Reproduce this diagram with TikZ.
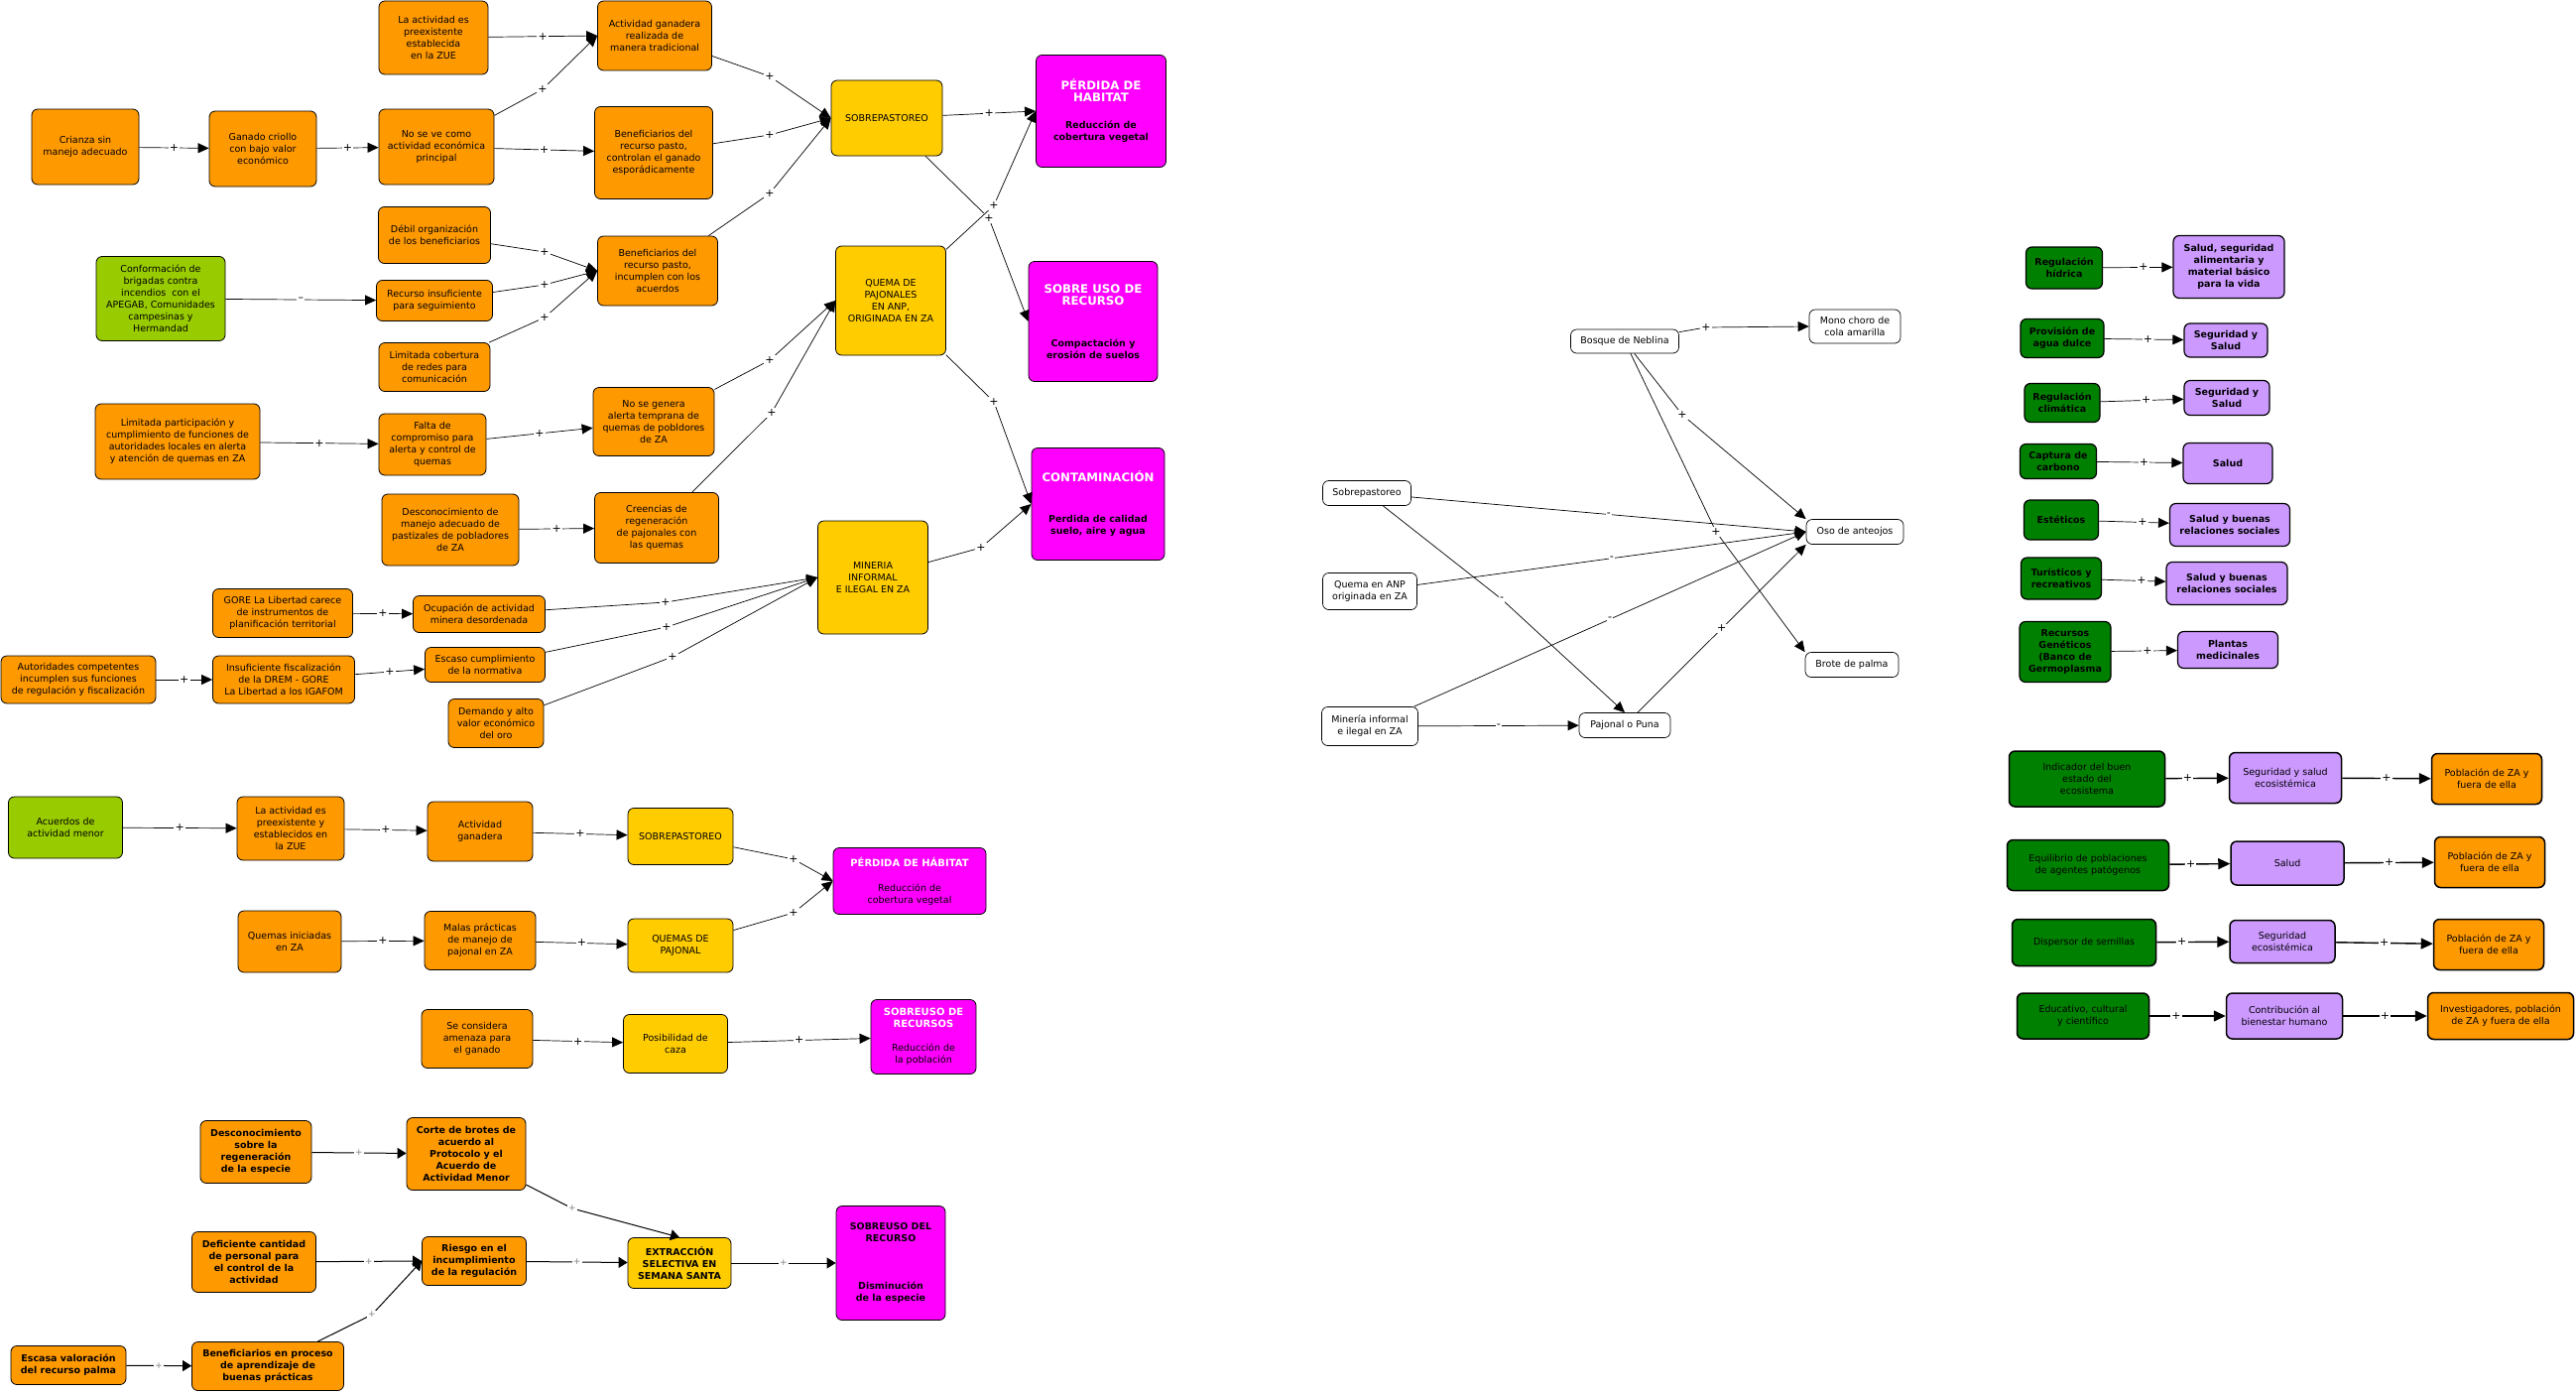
\documentclass[tikz,border=0pt]{standalone}
\usepackage{fontspec}
\setmainfont{DejaVu Sans}
\usetikzlibrary{arrows.meta}

\definecolor{naranja}{HTML}{FF9900}
\definecolor{amarillo}{HTML}{FFCC00}
\definecolor{fucsia}{HTML}{FF00FF}
\definecolor{lima}{HTML}{99CC00}
\definecolor{verde}{HTML}{008000}
\definecolor{lila}{HTML}{CC99FF}

\newcommand{\titb}{\color{white}\bfseries\fontsize{11.8}{14}\selectfont}
\newcommand{\titc}{\color{white}\bfseries\fontsize{10}{12}\selectfont}

\tikzset{
  caja/.style={draw, rounded corners=6pt, line width=0.8pt, align=center, inner sep=1pt, font=\fontsize{9.5}{12}\selectfont},
  tam/.style 2 args={minimum width=#1pt, minimum height=#2pt},
  cajanaranja/.style={caja, fill=naranja},
  cajaamarilla/.style={caja, fill=amarillo},
  cajafucsia/.style={caja, fill=fucsia},
  cajalima/.style={caja, fill=lima},
  cajaverde/.style={caja, fill=verde},
  cajalila/.style={caja, fill=lila},
  cajablanca/.style={caja, fill=white, line width=0.7pt},
  negrita/.style={font=\fontsize{9.5}{12}\selectfont\bfseries},
  gruesa/.style={line width=1.5pt},
  flecha/.style={-{Triangle[length=11pt,width=10pt]}, line width=0.7pt},
  flechamedia/.style={-{Triangle[length=9pt,width=11pt]}, line width=1pt},
  flechagruesa/.style={-{Triangle[length=12pt,width=11pt]}, line width=1.4pt},
  mas/.style={fill=white, inner sep=1.2pt, font=\fontsize{11}{11}\selectfont},
  masgris/.style={mas, text=gray, font=\fontsize{9}{9}\selectfont},
}

\begin{document}
\begin{tikzpicture}[x=1pt, y=-1pt]
\fill[white] (0,0) rectangle (2597,1405);
\useasboundingbox (0,0) rectangle (2597,1405);

% ganaderia, quemas y mineria
\node[cajanaranja, tam={108}{76}] (crianza) at (86,148) {Crianza sin\\manejo adecuado};
\node[cajanaranja, tam={108}{76}] (ganado) at (265,150) {Ganado criollo\\con bajo valor\\económico};
\node[cajanaranja, tam={116}{76}] (noseve) at (440,148) {No se ve como\\actividad económica\\principal};
\node[cajanaranja, tam={110}{74}] (preexist) at (437,38) {La actividad es\\preexistente\\establecida\\en la ZUE};
\node[cajanaranja, tam={115}{70}] (actgan) at (660,36) {Actividad ganadera\\realizada de\\manera tradicional};
\node[cajanaranja, tam={119}{93}] (benefctrl) at (659,154) {Beneficiarios del\\recurso pasto,\\controlan el ganado\\esporádicamente};
\node[cajaamarilla, tam={112}{76}] (sobrep) at (894,119) {SOBREPASTOREO};
\node[cajafucsia, tam={131}{113}] (perdida) at (1110,112) {\titb PÉRDIDA DE\\\titb HABITAT\\[15pt]\bfseries Reducción de\\\bfseries cobertura vegetal};
\node[cajanaranja, tam={113}{57}] (debil) at (438,237) {Débil organización\\de los beneficiarios};
\node[cajanaranja, tam={117}{41}] (recurso) at (438,303) {Recurso insuficiente\\para seguimiento};
\node[cajanaranja, tam={112}{49}] (limcob) at (438,370) {Limitada cobertura\\de redes para\\comunicación};
\node[cajalima, tam={130}{85}] (conform) at (162,301) {Conformación de\\brigadas contra\\incendios~ con el\\APEGAB, Comunidades\\campesinas y\\Hermandad};
\node[cajanaranja, tam={121}{70}] (benefinc) at (663,273) {Beneficiarios del\\recurso pasto,\\incumplen con los\\acuerdos};
\node[cajaamarilla, tam={111}{110}] (quema) at (898,303) {QUEMA DE\\PAJONALES\\EN ANP,\\ORIGINADA EN ZA};
\node[cajafucsia, tam={130}{121}] (sobreuso) at (1102,324) {\titb SOBRE USO DE\\\titb RECURSO\\[30pt]\bfseries Compactación y\\\bfseries erosión de suelos};
\node[cajanaranja, tam={166}{76}] (limpart) at (179,445) {Limitada participación y\\cumplimiento de funciones de\\autoridades locales en alerta\\y atención de quemas en ZA};
\node[cajanaranja, tam={108}{62}] (falta) at (436,448) {Falta de\\compromiso para\\alerta y control de\\quemas};
\node[cajanaranja, tam={122}{69}] (nogenera) at (659,425) {No se genera\\alerta temprana de\\quemas de pobldores\\de ZA};
\node[cajafucsia, tam={134}{113}] (contam) at (1107,508) {\titb CONTAMINACIÓN\\[29pt]\bfseries Perdida de calidad\\\bfseries suelo, aire y agua};
\node[cajanaranja, tam={138}{72}] (descmanejo) at (454,534) {Desconocimiento de\\manejo adecuado de\\pastizales de pobladores\\de ZA};
\node[cajanaranja, tam={125}{71}] (creencias) at (662,532) {Creencias de\\regeneración\\de pajonales con\\las quemas};
\node[cajaamarilla, tam={111}{114}] (mineria) at (880,582) {MINERIA\\INFORMAL\\E ILEGAL EN ZA};
\node[cajanaranja, tam={141}{49}] (gore) at (285,618) {GORE La Libertad carece\\de instrumentos de\\planificación territorial};
\node[cajanaranja, tam={133}{37}] (ocupacion) at (483,619) {Ocupación de actividad\\minera desordenada};
\node[cajanaranja, tam={156}{48}] (autoridades) at (79,685) {Autoridades competentes\\incumplen sus funciones\\de regulación y fiscalización};
\node[cajanaranja, tam={143}{48}] (insuf) at (286,685) {Insuficiente fiscalización\\de la DREM - GORE\\La Libertad a los IGAFOM};
\node[cajanaranja, tam={121}{35}] (escaso) at (489,670) {Escaso cumplimiento\\de la normativa};
\node[cajanaranja, tam={96}{49}] (demando) at (500,729) {Demando y alto\\valor económico\\del oro};

\draw[flecha] (crianza) -- node[mas]{+} (ganado);
\draw[flecha] (ganado) -- node[mas]{+} (noseve);
\draw[flecha] (preexist) -- node[mas]{+} (actgan.west);
\draw[flecha] (noseve) -- (547,90) node[mas]{+} -- (actgan.west);
\draw[flecha] (noseve) -- node[mas]{+} (benefctrl);
\draw[flecha] (actgan) -- (776,77) node[mas]{+} -- (sobrep.west);
\draw[flecha] (benefctrl) -- (776,136) node[mas]{+} -- (sobrep.west);
\draw[flecha] (benefinc) -- (776,195) node[mas]{+} -- (sobrep.west);
\draw[flecha] (sobrep) -- node[mas]{+} (perdida.west);
\draw[flecha] (sobrep) -- (997,220) node[mas]{+} -- (sobreuso.west);
\draw[flecha] (quema) -- (1002,207) node[mas]{+} -- (perdida.west);
\draw[flecha] (quema) -- (1002,405) node[mas]{+} -- (contam.west);
\draw[flecha] (debil) -- (549,254) node[mas]{+} -- (benefinc.west);
\draw[flecha] (recurso) -- (549,287) node[mas]{+} -- (benefinc.west);
\draw[flecha] (limcob) -- (549,320) node[mas]{+} -- (benefinc.west);
\draw[flecha] (conform) -- node[mas]{–} (recurso);
\draw[flecha] (limpart) -- node[mas]{+} (falta);
\draw[flecha] (falta) -- node[mas]{+} (nogenera);
\draw[flecha] (nogenera) -- (776,363) node[mas]{+} -- (quema.west);
\draw[flecha] (creencias) -- (778,416) node[mas]{+} -- (quema.west);
\draw[flecha] (descmanejo) -- node[mas]{+} (creencias);
\draw[flecha] (mineria) -- (989,552) node[mas]{+} -- (contam.west);
\draw[flecha] (gore) -- node[mas]{+} (ocupacion);
\draw[flecha] (autoridades) -- node[mas]{+} (insuf);
\draw[flecha] (insuf) -- node[mas]{+} (escaso);
\draw[flecha] (ocupacion) -- (671,607) node[mas]{+} -- (mineria.west);
\draw[flecha] (escaso) -- (672,632) node[mas]{+} -- (mineria.west);
\draw[flecha] (demando) -- (678,662) node[mas]{+} -- (mineria.west);

% actividad menor
\node[cajalima, tam={115}{62}] (acuerdos) at (66,834) {Acuerdos de\\actividad menor};
\node[cajanaranja, tam={108}{64}] (preexist2) at (293,835) {La actividad es\\preexistente y\\establecidos en\\la ZUE};
\node[cajanaranja, tam={106}{60}] (actgan2) at (484,838) {Actividad\\ganadera};
\node[cajaamarilla, tam={106}{57}] (sobrep2) at (686,843) {SOBREPASTOREO};
\node[cajafucsia, tam={154}{67}] (perdida2) at (917,888) {\titc PÉRDIDA DE HÁBITAT\\[13pt]Reducción de\\cobertura vegetal};
\node[cajanaranja, tam={104}{62}] (quemasini) at (292,949) {Quemas iniciadas\\en ZA};
\node[cajanaranja, tam={112}{59}] (malas) at (484,948) {Malas prácticas\\de manejo de\\pajonal en ZA};
\node[cajaamarilla, tam={106}{54}] (quemaspaj) at (686,953) {QUEMAS DE\\PAJONAL};
\node[cajanaranja, tam={112}{59}] (seconsidera) at (481,1047) {Se considera\\amenaza para\\el ganado};
\node[cajaamarilla, tam={105}{59}] (posibilidad) at (681,1052) {Posibilidad de\\caza};
\node[cajafucsia, tam={106}{75}] (sobreusorec) at (931,1045) {\titc SOBREUSO DE\\\titc RECURSOS\\[12pt]Reducción de\\la población};

\draw[flecha] (acuerdos) -- node[mas]{+} (preexist2);
\draw[flecha] (preexist2) -- node[mas]{+} (actgan2);
\draw[flecha] (actgan2) -- node[mas]{+} (sobrep2);
\draw[flecha] (sobrep2) -- (800,866) node[mas]{+} -- (perdida2.west);
\draw[flecha] (quemasini) -- node[mas]{+} (malas);
\draw[flecha] (malas) -- node[mas]{+} (quemaspaj);
\draw[flecha] (quemaspaj) -- (800,920) node[mas]{+} -- (perdida2.west);
\draw[flecha] (seconsidera) -- node[mas]{+} (posibilidad);
\draw[flecha] (posibilidad) -- node[mas]{+} (sobreusorec);

% palma
\node[cajanaranja, negrita, tam={112}{63}] (descreg) at (258,1161) {Desconocimiento\\sobre la\\regeneración\\de la especie};
\node[cajanaranja, negrita, tam={120}{73}] (corte) at (470,1163) {Corte de brotes de\\acuerdo al\\Protocolo y el\\Acuerdo de\\Actividad Menor};
\node[cajanaranja, negrita, tam={125}{61}] (deficiente) at (256,1272) {Deficiente cantidad\\de personal para\\el control de la\\actividad};
\node[cajanaranja, negrita, tam={105}{49}] (riesgo) at (478,1271) {Riesgo en el\\incumplimiento\\de la regulación};
\node[cajaamarilla, negrita, tam={104}{51}] (extraccion) at (685,1273) {EXTRACCIÓN\\SELECTIVA EN\\SEMANA SANTA};
\node[cajafucsia, negrita, tam={110}{115}] (sobreusodel) at (898,1273) {SOBREUSO DEL\\RECURSO\\[36pt]Disminución\\de la especie};
\node[cajanaranja, negrita, tam={116}{39}] (escasa) at (69,1376) {Escasa valoración\\del recurso palma};
\node[cajanaranja, negrita, tam={153}{49}] (benefproc) at (270,1377) {Beneficiarios en proceso\\de aprendizaje de\\buenas prácticas};

\draw[flechamedia] (descreg) -- node[masgris]{+} (corte);
\draw[flechamedia] (corte) -- (577,1218) node[masgris]{+} -- (extraccion.north);
\draw[flechamedia] (deficiente) -- node[masgris]{+} (riesgo.west);
\draw[flechamedia] (benefproc) -- (375,1325) node[masgris]{+} -- (riesgo.west);
\draw[flechamedia] (escasa) -- node[masgris]{+} (benefproc);
\draw[flechamedia] (riesgo) -- node[masgris]{+} (extraccion);
\draw[flechamedia] (extraccion) -- node[masgris]{+} (sobreusodel);

% especies
\node[cajablanca, tam={109}{24}] (bosque) at (1638,344) {Bosque de Neblina};
\node[cajablanca, tam={92}{34}] (mono) at (1870,329) {Mono choro de\\cola amarilla};
\node[cajablanca, tam={89}{25}] (sobrepw) at (1378,497) {Sobrepastoreo};
\node[cajablanca, tam={98}{25}] (oso) at (1870,536) {Oso de anteojos};
\node[cajablanca, tam={95}{37}] (quemaw) at (1381,596) {Quema en ANP\\originada en ZA};
\node[cajablanca, tam={94}{25}] (brote) at (1867,670) {Brote de palma};
\node[cajablanca, tam={97}{39}] (mineriaw) at (1381,732) {Minería informal\\e ilegal en ZA};
\node[cajablanca, tam={92}{25}] (pajonal) at (1638,731) {Pajonal o Puna};

\draw[flecha] (bosque) -- (1720,330) node[mas]{+} -- (mono.west);
\draw[flecha] (bosque) -- (1696,418) node[mas]{+} -- (oso.north west);
\draw[flecha] (bosque) -- (1730,536) node[mas]{+} -- (brote.north west);
\draw[flecha] (sobrepw) -- node[mas]{-} (oso.west);
\draw[flecha] (quemaw) -- node[mas]{-} (oso.west);
\draw[flecha] (mineriaw) -- node[mas]{-} (oso.west);
\draw[flecha] (sobrepw) -- (1514,604) node[mas]{-} -- (pajonal.north);
\draw[flecha] (mineriaw) -- node[mas]{-} (pajonal);
\draw[flecha] (pajonal) -- node[mas]{+} (oso.south west);

% servicios ecosistemicos
\node[cajaverde, negrita, line width=1.2pt, tam={77}{42}] (reghid) at (2081,270) {Regulación\\hídrica};
\node[cajalila, negrita, line width=1.2pt, tam={112}{63}] (salud1) at (2247,269) {Salud, seguridad\\alimentaria y\\material básico\\para la vida};
\node[cajaverde, negrita, line width=1.2pt, tam={84}{39}] (provision) at (2079,341) {Provisión de\\agua dulce};
\node[cajalila, negrita, line width=1.2pt, tam={84}{34}] (segsal1) at (2244,343) {Seguridad y\\Salud};
\node[cajaverde, negrita, line width=1.2pt, tam={76}{39}] (regclim) at (2079,406) {Regulación\\climática};
\node[cajalila, negrita, line width=1.2pt, tam={86}{35}] (segsal2) at (2245,401) {Seguridad y\\Salud};
\node[cajaverde, negrita, line width=1.2pt, tam={77}{35}] (captura) at (2075,465) {Captura de\\carbono};
\node[cajalila, negrita, line width=1.2pt, tam={90}{41}] (salud2) at (2246,467) {Salud};
\node[cajaverde, negrita, line width=1.2pt, tam={75}{40}] (esteticos) at (2078,524) {Estéticos};
\node[cajalila, negrita, line width=1.2pt, tam={121}{43}] (salbuen1) at (2248,529) {Salud y buenas\\relaciones sociales};
\node[cajaverde, negrita, line width=1.2pt, tam={81}{42}] (turisticos) at (2078,583) {Turísticos y\\recreativos};
\node[cajalila, negrita, line width=1.2pt, tam={122}{43}] (salbuen2) at (2245,588) {Salud y buenas\\relaciones sociales};
\node[cajaverde, negrita, line width=1.2pt, tam={92}{61}] (recgen) at (2082,657) {Recursos\\Genéticos\\(Banco de\\Germoplasma};
\node[cajalila, negrita, line width=1.2pt, tam={101}{37}] (plantas) at (2246,655) {Plantas\\medicinales};

\draw[flecha] (reghid) -- node[mas, pos=0.58]{+} (salud1);
\draw[flecha] (provision) -- node[mas, pos=0.55]{+} (segsal1);
\draw[flecha] (regclim) -- node[mas, pos=0.55]{+} (segsal2);
\draw[flecha] (captura) -- node[mas, pos=0.55]{+} (salud2);
\draw[flecha] (esteticos) -- node[mas, pos=0.62]{+} (salbuen1);
\draw[flecha] (turisticos) -- node[mas, pos=0.62]{+} (salbuen2);
\draw[flecha] (recgen) -- node[mas, pos=0.55]{+} (plantas);

\node[cajaverde, gruesa, tam={157}{56}] (indicador) at (2104,785) {Indicador del buen\\estado del\\ecosistema};
\node[cajalila, gruesa, tam={113}{51}] (segsaleco) at (2304,784) {Seguridad y salud\\ecosistémica};
\node[cajanaranja, gruesa, tam={111}{51}] (pob1) at (2507,785) {Población de ZA y\\fuera de ella};
\node[cajaverde, gruesa, tam={163}{51}] (equilibrio) at (2105,872) {Equilibrio de poblaciones\\de agentes patógenos};
\node[cajalila, gruesa, tam={114}{44}] (salud3) at (2306,870) {Salud};
\node[cajanaranja, gruesa, tam={111}{51}] (pob2) at (2510,869) {Población de ZA y\\fuera de ella};
\node[cajaverde, gruesa, tam={145}{47}] (dispersor) at (2101,950) {Dispersor de semillas};
\node[cajalila, gruesa, tam={106}{43}] (segeco) at (2301,949) {Seguridad\\ecosistémica};
\node[cajanaranja, gruesa, tam={111}{51}] (pob3) at (2509,952) {Población de ZA y\\fuera de ella};
\node[cajaverde, gruesa, tam={133}{46}] (educativo) at (2100,1024) {Educativo, cultural\\y científico};
\node[cajalila, gruesa, tam={117}{46}] (contrib) at (2303,1024) {Contribución al\\bienestar humano};
\node[cajanaranja, gruesa, tam={147}{47}] (investig) at (2521,1024) {Investigadores, población\\de ZA y fuera de ella};

\draw[flechagruesa] (indicador) -- node[mas, pos=0.35]{+} (segsaleco);
\draw[flechagruesa] (segsaleco) -- node[mas]{+} (pob1);
\draw[flechagruesa] (equilibrio) -- node[mas, pos=0.35]{+} (salud3);
\draw[flechagruesa] (salud3) -- node[mas]{+} (pob2);
\draw[flechagruesa] (dispersor) -- node[mas, pos=0.35]{+} (segeco);
\draw[flechagruesa] (segeco) -- node[mas]{+} (pob3);
\draw[flechagruesa] (educativo) -- node[mas, pos=0.35]{+} (contrib);
\draw[flechagruesa] (contrib) -- node[mas]{+} (investig);
\end{tikzpicture}
\end{document}
